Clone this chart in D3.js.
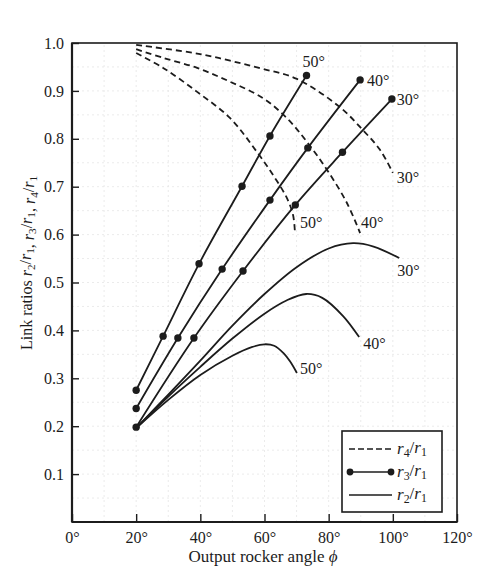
<!DOCTYPE html>
<html><head><meta charset="utf-8">
<script src="https://cdn.jsdelivr.net/npm/d3@7"></script>
<style>body{margin:0;background:#fff}svg{display:block}</style>
</head><body><svg id="c" width="488" height="569"></svg>
<script>
// ---- data ----
const xTicks = [0, 20, 40, 60, 80, 100, 120];
const yTicks = [0.1, 0.2, 0.3, 0.4, 0.5, 0.6, 0.7, 0.8, 0.9, 1.0];
const angleLabels = ["30°", "40°", "50°"];

// r4/r1 (dashed)
const r4_30 = [[20,0.996],[39,0.978],[49.3,0.963],[59.5,0.946],[70.1,0.925],[83.5,0.866],[90.7,0.818],[96,0.777],[100,0.729]];
const r4_40 = [[20,0.987],[28.4,0.969],[39,0.948],[49.3,0.919],[59.5,0.885],[67,0.843],[73.3,0.793],[79.5,0.735],[85.7,0.666],[89.8,0.603]];
const r4_50 = [[20,0.979],[28.4,0.948],[39,0.898],[49.3,0.843],[57.7,0.772],[62.7,0.724],[67,0.676],[68.9,0.641],[69.5,0.603]];

// r3/r1 (solid with dots)
const r3_30 = [[20,0.198],[38,0.384],[53.3,0.524],[69.6,0.662],[84.3,0.772],[99.7,0.883]];
const r3_40 = [[20,0.237],[33,0.384],[46.8,0.528],[61.7,0.672],[73.5,0.781],[89.8,0.923]];
const r3_50 = [[20,0.275],[28.4,0.388],[39.6,0.539],[53,0.701],[61.7,0.806],[73.1,0.932]];

// r2/r1 (solid)
const r2_30 = [[20,0.196],[30,0.266],[40,0.337],[50,0.41],[60,0.476],[70,0.532],[80,0.571],[87.6,0.582],[94,0.575],[102,0.551]];
const r2_40 = [[20,0.196],[30,0.262],[40,0.324],[50,0.383],[60,0.435],[67,0.463],[73,0.476],[78,0.468],[84.5,0.43],[89.5,0.386]];
const r2_50 = [[20,0.196],[30,0.255],[40,0.307],[50,0.347],[56,0.365],[60,0.371],[63,0.368],[66,0.352],[68,0.335],[70.1,0.311]];

// ---- chart ----
const svg = d3.select("#c");
const ink = "#1c1c1c";
const font = "'Liberation Serif','Times New Roman',serif";
const x = d3.scaleLinear().domain([0, 120]).range([72, 457]);
const y = d3.scaleLinear().domain([0, 1]).range([522, 43]);

// faint grid (graph paper)
const g = svg.append("g").attr("stroke", "#e6e6e6").attr("stroke-width", 0.8).attr("stroke-dasharray", "2,3");
d3.range(10, 120, 10).forEach(v => g.append("line").attr("x1", x(v)).attr("x2", x(v)).attr("y1", y(0)).attr("y2", y(1)));
d3.range(0.05, 1, 0.05).forEach(v => g.append("line").attr("x1", x(0)).attr("x2", x(120)).attr("y1", y(v)).attr("y2", y(v)));

// axes (ticks inward)
const yAxis = d3.axisLeft(y).tickValues(yTicks).tickSizeInner(-7).tickSizeOuter(0).tickPadding(8).tickFormat(d3.format(".1f"));
const xAxis = d3.axisBottom(x).tickValues(xTicks).tickSizeInner(-8).tickSizeOuter(0).tickPadding(10).tickFormat(d => d + "°");
const ya = svg.append("g").attr("transform", `translate(${x(0)},0)`).call(yAxis);
const xa = svg.append("g").attr("transform", `translate(0,${y(0)})`).call(xAxis);
[ya, xa].forEach(a => {
  a.select(".domain").remove();
  a.selectAll("line").attr("stroke", ink).attr("stroke-width", 1.4);
  a.selectAll("text").attr("fill", ink).attr("font-family", font).attr("font-size", 16);
});
// frame
svg.append("rect").attr("x", x(0)).attr("y", y(1)).attr("width", x(120) - x(0)).attr("height", y(0) - y(1))
  .attr("fill", "none").attr("stroke", ink).attr("stroke-width", 1.6);
svg.append("line").attr("x1", x(0)).attr("x2", x(0)).attr("y1", y(1)).attr("y2", y(0)).attr("stroke", ink).attr("stroke-width", 2.2);
svg.append("line").attr("x1", x(0)).attr("x2", x(120)).attr("y1", y(0)).attr("y2", y(0)).attr("stroke", ink).attr("stroke-width", 2.2);

const line = d3.line().x(d => x(d[0])).y(d => y(d[1])).curve(d3.curveCatmullRom.alpha(0.5));

function lbl(px, py, t) {
  svg.append("text").attr("x", px).attr("y", py).attr("font-family", font).attr("font-size", 16).attr("fill", ink).text(t);
}

// r4 dashed
const r4 = [r4_30, r4_40, r4_50];
const r4Off = [[4, 10], [1, -5], [5, -5]];
r4.forEach((s, i) => {
  svg.append("path").attr("d", line(s)).attr("fill", "none").attr("stroke", ink).attr("stroke-width", 1.8).attr("stroke-dasharray", "6,4");
  const e = s[s.length - 1];
  lbl(x(e[0]) + r4Off[i][0], y(e[1]) + r4Off[i][1], angleLabels[i]);
});

// r3 with dots
const r3 = [r3_30, r3_40, r3_50];
const r3Off = [[5, 6], [7, 6], [-4, -9]];
r3.forEach((s, i) => {
  svg.append("path").attr("d", line(s)).attr("fill", "none").attr("stroke", ink).attr("stroke-width", 1.8);
  svg.selectAll(null).data(s).enter().append("circle").attr("cx", d => x(d[0])).attr("cy", d => y(d[1])).attr("r", 3.7).attr("fill", ink);
  const e = s[s.length - 1];
  lbl(x(e[0]) + r3Off[i][0], y(e[1]) + r3Off[i][1], angleLabels[i]);
});

// r2 solid
const r2 = [r2_30, r2_40, r2_50];
const r2Off = [[-2, 18], [4, 12], [3, 1]];
r2.forEach((s, i) => {
  svg.append("path").attr("d", line(s)).attr("fill", "none").attr("stroke", ink).attr("stroke-width", 1.8);
  const e = s[s.length - 1];
  lbl(x(e[0]) + r2Off[i][0], y(e[1]) + r2Off[i][1], angleLabels[i]);
});

// ratio text helper: r_a / r_b with subscripts
function ratio(t, a, b) {
  t.append("tspan").attr("font-style", "italic").text("r");
  t.append("tspan").attr("font-size", "0.7em").attr("dy", "0.25em").text(a);
  t.append("tspan").attr("dy", "-0.25em").text("/");
  t.append("tspan").attr("font-style", "italic").text("r");
  t.append("tspan").attr("font-size", "0.7em").attr("dy", "0.25em").text(b);
  t.append("tspan").attr("dy", "-0.25em").text("");
}

// legend
const lx = 342, ly = 431;
svg.append("rect").attr("x", lx).attr("y", ly).attr("width", 100).attr("height", 81).attr("fill", "#fff").attr("stroke", ink).attr("stroke-width", 1.6);
const rows = [["4", "dash"], ["3", "dot"], ["2", "solid"]];
rows.forEach((r, i) => {
  const yy = ly + 18 + i * 23;
  const l = svg.append("line").attr("x1", lx + 7).attr("x2", lx + 50).attr("y1", yy).attr("y2", yy).attr("stroke", ink).attr("stroke-width", 1.6);
  if (r[1] === "dash") l.attr("stroke-dasharray", "6,3");
  if (r[1] === "dot") {
    [lx + 8, lx + 49].forEach(cx => svg.append("circle").attr("cx", cx).attr("cy", yy).attr("r", 3.4).attr("fill", ink));
  }
  const t = svg.append("text").attr("x", lx + 55).attr("y", yy + 5).attr("font-family", font).attr("font-size", 17).attr("fill", ink);
  ratio(t, r[0], "1");
});

// axis titles
const xt = svg.append("text").attr("x", 263).attr("y", 562).attr("text-anchor", "middle").attr("font-family", font).attr("font-size", 17).attr("fill", ink);
xt.append("tspan").text("Output rocker angle ");
xt.append("tspan").attr("font-style", "italic").text("ϕ");

const yt = svg.append("text").attr("transform", "translate(32,263) rotate(-90)").attr("text-anchor", "middle").attr("font-family", font).attr("font-size", 16).attr("fill", ink);
yt.append("tspan").text("Link ratios ");
ratio(yt, "2", "1"); yt.append("tspan").text(", ");
ratio(yt, "3", "1"); yt.append("tspan").text(", ");
ratio(yt, "4", "1");
</script>
</body></html>
